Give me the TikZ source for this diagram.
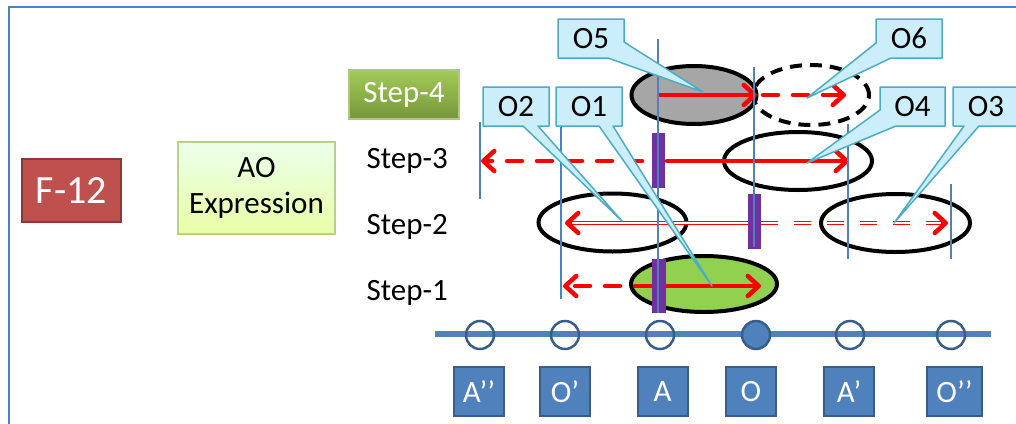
\documentclass[tikz,border=0pt]{standalone}
\usepackage{fontspec}
\setmainfont{Carlito}
\usetikzlibrary{arrows.meta,shapes.geometric}
\definecolor{frameblue}{HTML}{4F81BD}
\definecolor{darkblue}{HTML}{385D8A}
\definecolor{fred}{HTML}{C0504D}
\definecolor{fredline}{HTML}{8C3836}
\definecolor{olive}{HTML}{9BBB59}
\definecolor{steptop}{HTML}{A2CB58}
\definecolor{stepbottom}{HTML}{77963B}
\definecolor{calloutfill}{HTML}{CCEEFA}
\definecolor{calloutline}{HTML}{4BACC6}
\definecolor{barpurple}{HTML}{7030A0}
\definecolor{greenfill}{HTML}{92D050}

\begin{document}
\begin{tikzpicture}[x=1pt,y=-1pt,
    txt/.style={font=\fontsize{31}{36}\selectfont},
    tick/.style={circle,draw=darkblue,line width=2.5pt,minimum size=28pt,inner sep=0pt},
    lbl/.style={txt,draw=darkblue,line width=2pt,fill=frameblue,text=white,minimum height=49pt,inner sep=0pt},
    orbit/.style={ellipse,draw=black,line width=4pt,inner sep=0pt},
    bar/.style={fill=barpurple,minimum width=13pt,minimum height=55pt,inner sep=0pt},
    markline/.style={frameblue,line width=1.2pt},
    redline/.style={red,line width=4.5pt,line cap=round},
    redarr/.style={redline,-{Straight Barb[length=11pt,width=20pt,round]}},
    dashline/.style={dash pattern=on 15pt off 15pt},
    dbl/.style={red,line width=1.3pt,double=white,double distance=1.4pt},
    callshape/.style={fill=calloutfill,draw=calloutline,line width=1.5pt,line join=round}]
\useasboundingbox (0,0) rectangle (1016,423);
% frame
\draw[frameblue,line width=2pt] (9,440) -- (9,7) -- (1040,7);

% left boxes
\node[txt,font=\fontsize{40}{44}\selectfont,fill=fred,draw=fredline,line width=2pt,text=white,
  minimum width=99pt,minimum height=63pt] (f12) at (71.5,190.5) {F-12};
\node[txt,top color=green!8!white,bottom color=green!25!yellow!35!white,draw=olive!70!white,line width=1.5pt,
  minimum width=157pt,minimum height=92pt,align=center] (ao) at (256.5,188) {AO\\Expression};
\node[txt,top color=steptop,bottom color=stepbottom,draw=olive!80!white,line width=1.5pt,text=white,
  minimum width=110pt,minimum height=49pt] (s4) at (404,94.5) {Step-4};
\node[txt,anchor=base west] (s3) at (363,168) {Step-3};
\node[txt,anchor=base west] (s2) at (363,234) {Step-2};
\node[txt,anchor=base west] (s1) at (363,300) {Step-1};

% axis with points
\draw[frameblue,line width=6pt] (435,334) -- (991,334);
\foreach \x/\n in {480/pA2,565/pO1,660/pA,850/pA1,951/pO2}
  \node[tick] (\n) at (\x,335) {};
\node[tick,fill=frameblue] (pO) at (756,335) {};
\foreach \x/\n/\t/\w in {479/lA2/A’’/50,565/lO1/O’/50,662.5/lA/A/50,751/lO/O/50,849/lA1/A’/50,954.5/lO2/O’’/55}
  \node[lbl,minimum width=\w pt] (\n) at (\x,391.5) {\t};

% orbits
\node[orbit,fill=black!35,minimum width=125pt,minimum height=58pt] (e5) at (694,95) {};
\node[orbit,dash pattern=on 12pt off 8pt,minimum width=116pt,minimum height=60pt] (e6) at (811,95) {};
\node[orbit,minimum width=148pt,minimum height=58pt] (e4) at (798,161) {};
\node[orbit,minimum width=148pt,minimum height=58pt] (e2) at (612.5,222.5) {};
\node[orbit,minimum width=149pt,minimum height=58pt] (e3) at (895.5,223) {};
\node[orbit,fill=greenfill,minimum width=146pt,minimum height=56pt] (e1) at (704,284) {};

% moves
\draw[redarr] (660,95) -- (757,95);
\draw[redarr,dashline] (763,95) -- (846,95);
\draw[redarr] (667,161) -- (849,161);
\draw[redarr,dashline] (642,161) -- (481,161);
\draw[dbl] (750,223) -- (568,223);
\draw[redarr] (570,223) -- (565,223);
\draw[dbl,dash pattern=on 17pt off 16pt] (761,223) -- (944,223);
\draw[redarr] (943,223) -- (948,223);
\draw[redarr] (635,286) -- (761,286);
\draw[redarr,dashline] (620,286) -- (563,286);

% bars
\node[bar] (b3) at (658.5,160.5) {};
\node[bar] (b2) at (754.5,221.5) {};
\node[bar,minimum width=14pt,minimum height=54pt] (b1) at (659,286) {};

% marker lines
\foreach \x/\a/\b in {480/122/199,561/127/299,658/39/313,754/67/247,848/124/259,951/184/259}
  \draw[markline] (\x,\a) -- (\x,\b);

% callouts
\path[callshape] (558,19) -- (624,19) -- (624,42) -- (703,92) -- (608,58) -- (558,58) -- cycle;
\node[txt] (o5) at (591,38.5) {O5};
\path[callshape] (876,19) -- (942,19) -- (942,58) -- (891,58) -- (807,98) -- (876,43) -- cycle;
\node[txt] (o6) at (909,38.5) {O6};
\path[callshape] (483,87) -- (549,87) -- (549,126) -- (538,126) -- (622,221) -- (523,126) -- (483,126) -- cycle;
\node[txt] (o2) at (516,106.5) {O2};
\path[callshape] (556,87) -- (622,87) -- (622,126) -- (613,126) -- (712,286) -- (599,126) -- (556,126) -- cycle;
\node[txt] (o1) at (589,106.5) {O1};
\path[callshape] (880,87) -- (945,87) -- (945,126) -- (896,126) -- (807,163) -- (880,110) -- cycle;
\node[txt] (o4) at (912.5,106.5) {O4};
\path[callshape] (953,87) -- (1019,87) -- (1019,126) -- (979,126) -- (894,223) -- (964,126) -- (953,126) -- cycle;
\node[txt] (o3) at (986,106.5) {O3};
\end{tikzpicture}
\end{document}
